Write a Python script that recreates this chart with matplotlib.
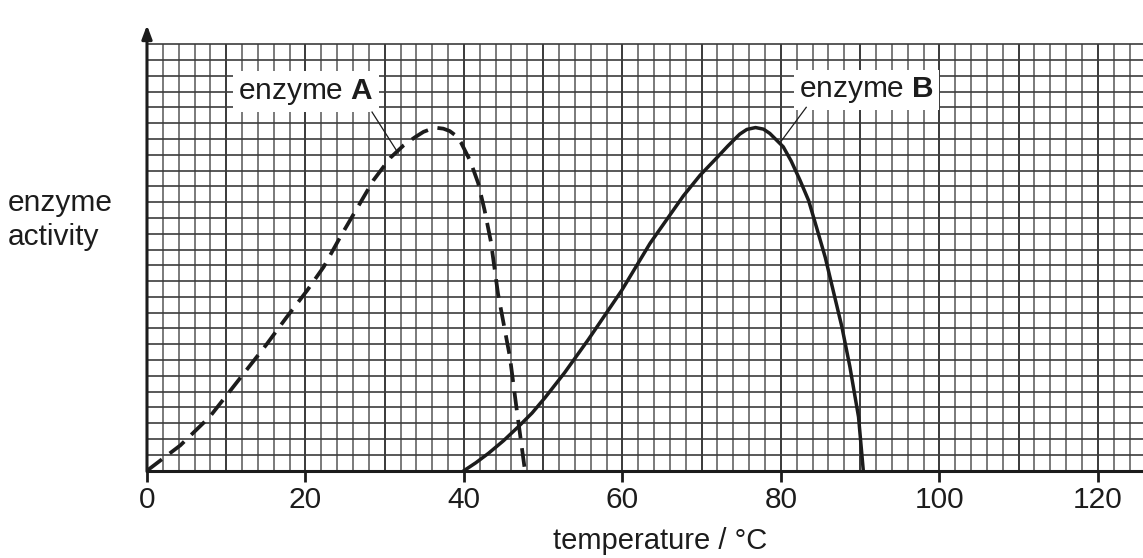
import matplotlib
matplotlib.use("Agg")
import matplotlib.pyplot as plt

plt.rcParams['font.family'] = ['Liberation Sans', 'DejaVu Sans']
plt.rcParams['mathtext.fontset'] = 'custom'
plt.rcParams['mathtext.rm'] = 'Liberation Sans'
plt.rcParams['mathtext.bf'] = 'Liberation Sans:bold'

# readings off the graph paper (x in degC, y in small squares)
temp_a = [0, 4.2, 7.9, 10.1, 12.6, 15.1, 17.6, 20.2, 22.3, 24.4, 26.5, 28.6, 30.7,
          32.4, 33.8, 34.9, 35.8, 36.6, 37.4, 38.2, 39.0, 39.6, 40.8, 41.8, 42.6,
          43.4, 44.3, 45.8, 46.6, 47.7]
act_a = [0, 1.6, 3.4, 4.8, 6.4, 8.0, 9.7, 11.4, 12.9, 14.8, 16.6, 18.4, 19.8,
         20.6, 21.1, 21.45, 21.62, 21.7, 21.65, 21.5, 21.2, 20.8, 19.6, 18.2, 16.5,
         14.5, 11.2, 7.2, 4.1, 0]

temp_b = [40, 41.5, 43.1, 45.0, 46.9, 48.6, 50.2, 52.7, 55.7, 59.9, 63.5, 67.7, 69.8,
          71.9, 73.3, 74.8, 75.7, 76.8, 77.8, 78.6, 80.3, 81.3, 82.4, 83.5, 84.5,
          85.6, 86.6, 87.7, 88.7, 89.8, 90.4]
act_b = [0, 0.5, 1.1, 1.9, 2.8, 3.65, 4.6, 6.2, 8.3, 11.4, 14.4, 17.4, 18.7,
         19.8, 20.55, 21.3, 21.6, 21.72, 21.62, 21.35, 20.5, 19.6, 18.4, 17.1, 15.4,
         13.5, 11.4, 9.1, 6.6, 3.4, 0]

xticks = [0, 20, 40, 60, 80, 100, 120]
ink = '#1c1c1c'

fig = plt.figure(figsize=(11.43, 5.58), dpi=100)
ax = fig.add_axes([0.1286, 0.1565, 0.8714, 0.8077])
ax.set_xlim(0, 125.7)
ax.set_ylim(0, 28.53)

# graph paper
for gx in range(2, 126, 2):
    major = gx % 10 == 0
    ax.vlines(gx, 0, 27, color='#2a2a2a' if major else '#7a7a7a',
              lw=1.3 if major else 1.4, zorder=1)
for gy in range(1, 28):
    ax.hlines(gy, 0, 125.7, color='#3c3c3c', lw=1.2, zorder=1)

ax.plot(temp_a, act_a, color=ink, lw=2.7, linestyle=(0, (5, 2.6)), zorder=3,
        solid_joinstyle='round', dash_joinstyle='round')
ax.plot(temp_b, act_b, color=ink, lw=2.5, zorder=3, solid_joinstyle='round')

# labels with leader lines
box = dict(boxstyle='square,pad=0.18', fc='white', ec='none')
ax.text(20.1, 24.0, r'enzyme $\mathbf{A}$', fontsize=21.5, color=ink,
        ha='center', va='center', bbox=box, zorder=4)
ax.plot([28.4, 31.7], [22.7, 20.1], color=ink, lw=0.9, zorder=5)
ax.text(90.8, 24.1, r'enzyme $\mathbf{B}$', fontsize=21.5, color=ink,
        ha='center', va='center', bbox=box, zorder=4)
ax.plot([83.2, 80.1], [23.0, 20.9], color=ink, lw=0.9, zorder=5)

# axes
for s in ax.spines.values():
    s.set_visible(False)
ax.axhline(0, color=ink, lw=2.2, zorder=6, clip_on=False)
ax.annotate('', xy=(0, 28.2), xytext=(0, -0.05),
            arrowprops=dict(arrowstyle='-|>,head_length=0.8,head_width=0.3',
                            lw=2.2, color=ink, shrinkA=0, shrinkB=0),
            annotation_clip=False, zorder=6)

ax.set_xticks(xticks)
ax.set_yticks([])
ax.tick_params(axis='x', length=8, width=2, color=ink, pad=3,
               labelsize=21.5, labelcolor=ink)

ax.text(64.7, -4.45, 'temperature / °C', fontsize=21, color=ink,
        ha='center', va='center')
fig.text(8 / 1143, 1 - 220 / 558, 'enzyme\nactivity', fontsize=21.5, color=ink,
         ha='left', va='center', linespacing=1.25)

fig.savefig('out.png', dpi=100)
